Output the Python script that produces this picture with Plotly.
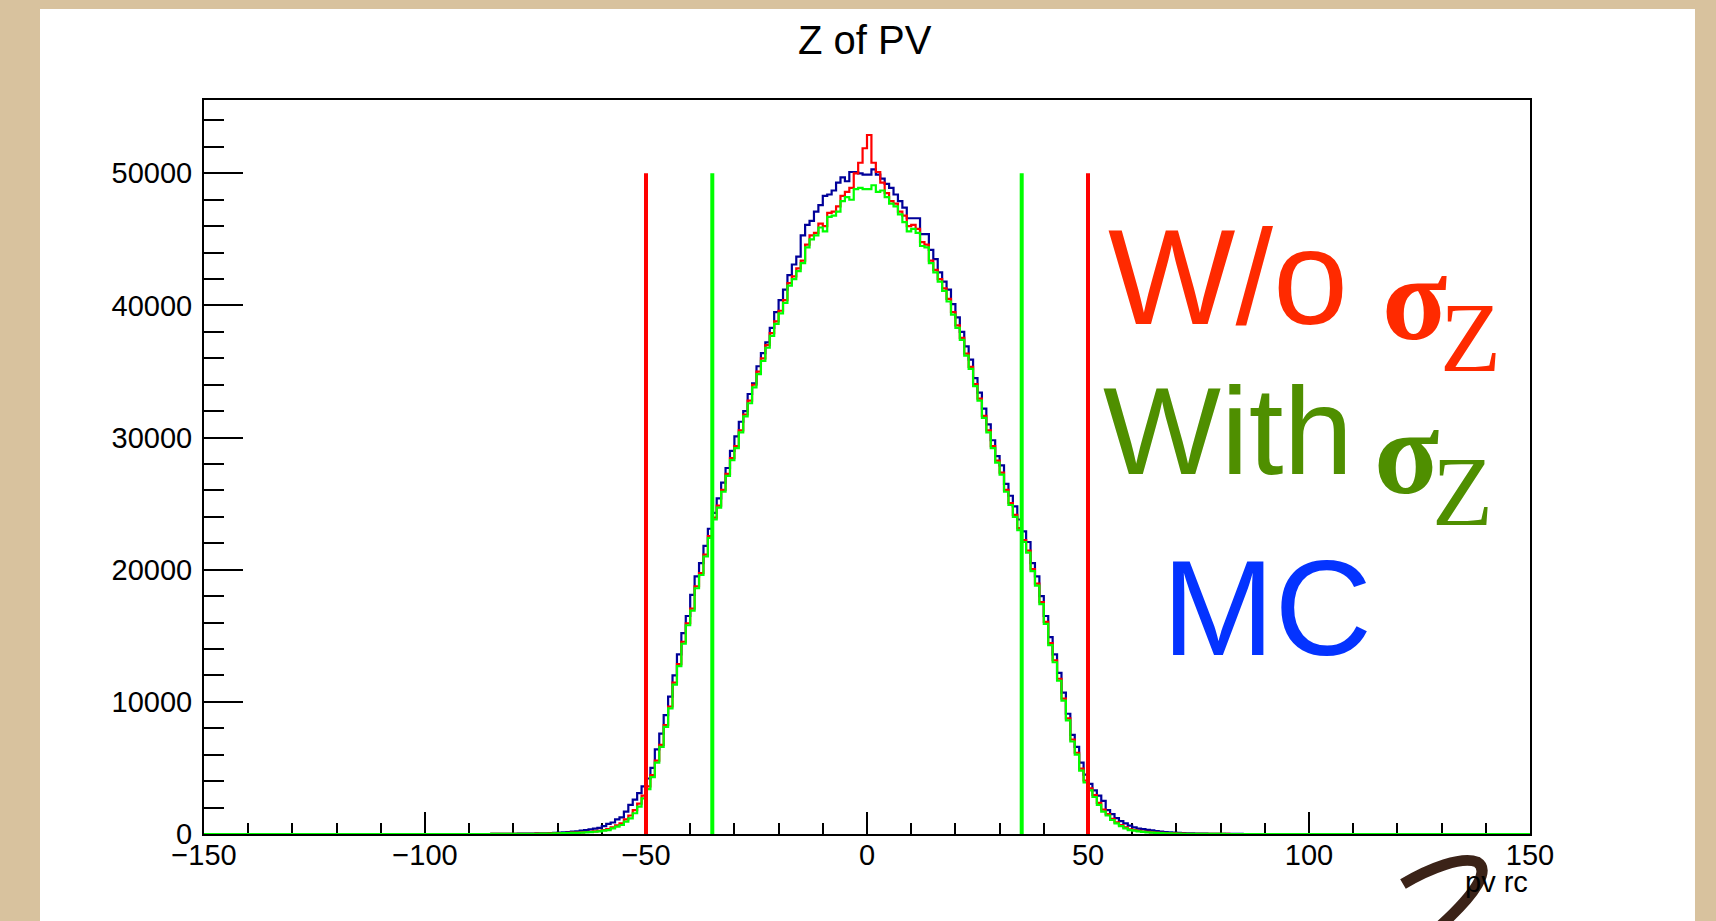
import plotly.graph_objects as go

# ---------------- data (histogram contents, 1-unit bins) ----------------
bin_lo = -85           # left edge of first listed bin; bins outside the list are empty
x_min, x_max = -150, 150

mc_counts = [
    10, 10, 15, 15, 20, 20, 25, 25, 30, 35,
    40, 45, 55, 65, 80, 100, 120, 150, 180, 210,
    250, 300, 350, 400, 460, 600, 760, 870, 1100, 1260,
    1700, 2200, 2600, 3100, 3600, 4200, 5000, 6400, 7600, 9000,
    10400, 12000, 13600, 15200, 16500, 18100, 19500, 20500, 21800, 23100,
    24300, 25400, 26600, 27700, 29000, 30100, 31200, 32000, 33300, 34100,
    35400, 36400, 37200, 38300, 39500, 40400, 41200, 42300, 43100, 43700,
    45300, 46100, 46400, 47100, 47600, 48300, 48400, 48700, 49300, 49700,
    49400, 50100, 50100, 50000, 49900, 49900, 50300, 49900, 49600, 49200,
    48900, 48400, 47900, 47400, 46600, 46600, 46600, 45400, 45400, 44200,
    43500, 42500, 41800, 41200, 40100, 39100, 38000, 36900, 35900, 34500,
    33400, 32200, 31000, 29800, 28600, 27900, 26500, 25600, 24800, 23800,
    22900, 22100, 20500, 19500, 18000, 16500, 14900, 13600, 12200, 10700,
    9100, 7500, 6600, 5400, 4500, 3800, 3300, 2900, 2500, 1800,
    1500, 1200, 980, 800, 630, 500, 400, 370, 310, 280,
    220, 180, 150, 120, 100, 80, 60, 50, 40, 30,
    25, 25, 20, 20, 15, 15, 10, 10, 10, 5,
]

wo_sigma_counts = [
    5, 5, 5, 10, 10, 10, 15, 15, 20, 20,
    25, 30, 35, 40, 50, 60, 70, 80, 100, 110,
    130, 150, 170, 200, 240, 300, 380, 500, 660, 800,
    1100, 1400, 1800, 2300, 2900, 3600, 4450, 5550, 6750, 8250,
    9650, 11450, 12850, 14550, 15950, 17050, 18750, 19750, 21150, 22550,
    23950, 24850, 26050, 27250, 28450, 29350, 30550, 31750, 32800, 34000,
    35000, 36000, 37000, 37900, 38800, 39600, 40400, 41700, 42200, 42800,
    43400, 44600, 45300, 45500, 46200, 46000, 47000, 47100, 47500, 48300,
    48600, 48900, 50000, 50800, 51900, 52900, 50800, 50100, 49300, 48500,
    47900, 47700, 47100, 46800, 46000, 46100, 45800, 44800, 44600, 43400,
    42700, 42000, 41300, 40500, 39500, 38500, 37550, 36350, 35350, 34050,
    32950, 31650, 30550, 29350, 28250, 27350, 26050, 25050, 24150, 23150,
    22250, 21450, 20050, 18950, 17550, 16050, 14450, 13150, 11750, 10250,
    8750, 7150, 6150, 4950, 4050, 3450, 2950, 2350, 1850, 1500,
    1150, 880, 680, 500, 360, 300, 240, 190, 160, 120,
    100, 80, 60, 50, 40, 30, 25, 20, 15, 15,
    10, 10, 10, 5, 5, 5, 5, 0, 0, 0,
]

with_sigma_counts = [
    5, 5, 5, 5, 10, 10, 10, 15, 15, 20,
    20, 25, 30, 35, 40, 50, 60, 70, 80, 90,
    100, 120, 140, 170, 200, 250, 300, 430, 560, 680,
    930, 1190, 1570, 2070, 2700, 3400, 4300, 5400, 6600, 8100,
    9500, 11300, 12700, 14400, 15800, 16900, 18600, 19600, 21000, 22400,
    23800, 24700, 25900, 27100, 28300, 29200, 30400, 31600, 32600, 33800,
    34800, 35800, 36800, 37700, 38600, 39400, 40200, 41500, 42000, 42600,
    43200, 44400, 45000, 45300, 45900, 45600, 46700, 46800, 47100, 47900,
    48200, 48000, 48800, 48900, 48800, 48800, 49100, 48600, 48700, 48200,
    47700, 47500, 46900, 46300, 45600, 45800, 45500, 44500, 44400, 43200,
    42500, 41800, 41100, 40300, 39300, 38300, 37400, 36200, 35200, 33900,
    32800, 31500, 30400, 29200, 28100, 27200, 25900, 24900, 24000, 23000,
    22100, 21300, 19900, 18800, 17400, 15900, 14300, 13000, 11600, 10100,
    8600, 7000, 6000, 4800, 3900, 3300, 2800, 2200, 1700, 1400,
    1060, 800, 600, 430, 300, 250, 200, 160, 130, 100,
    80, 60, 50, 40, 30, 25, 20, 15, 15, 10,
    10, 10, 5, 5, 5, 5, 0, 0, 0, 0,
]

cut_wo_sigma = [-50, 50]     # red vertical lines
cut_with_sigma = [-35, 35]   # green vertical lines
cut_line_top = 50000

y_max = 55550
x_ticks = [-150, -100, -50, 0, 50, 100, 150]
y_ticks = [0, 10000, 20000, 30000, 40000, 50000]

title_text = "Z of PV"
x_title = "pv rc"

# ---------------- geometry helpers ----------------
W, H = 1716, 921
L, R, T, B = 204, 1530, 100, 834      # plot-area pixel box


def px(xp):
    return (xp - L) / (R - L)


def py(yp):
    return (B - yp) / (B - T)


def step_xy(vals):
    xs = list(range(x_min, x_max + 1))
    ys = []
    for e in range(x_min, x_max):
        i = e - bin_lo
        ys.append(vals[i] if 0 <= i < len(vals) else 0)
    ys.append(ys[-1])
    return xs, ys


fig = go.Figure()

for vals, col in [(mc_counts, "#000099"), (wo_sigma_counts, "#ff0000"),
                  (with_sigma_counts, "#00ff00")]:
    xs, ys = step_xy(vals)
    fig.add_trace(go.Scatter(x=xs, y=ys, mode="lines", line_shape="hv",
                             line=dict(color=col, width=2.2),
                             hoverinfo="skip", showlegend=False))

for cuts, col in [(cut_wo_sigma, "#ff0000"), (cut_with_sigma, "#00ff00")]:
    for c in cuts:
        fig.add_trace(go.Scatter(x=[c, c], y=[0, cut_line_top], mode="lines",
                                 line=dict(color=col, width=4),
                                 hoverinfo="skip", showlegend=False))

tick_font = dict(family="Liberation Sans, Arial, sans-serif", size=29, color="black")

fig.update_xaxes(range=[x_min, x_max], tickvals=x_ticks, ticks="inside", ticklen=22,
                 tickwidth=2, tickcolor="black", showline=True, linecolor="black",
                 linewidth=2, mirror=True, showgrid=False, zeroline=False,
                 tickfont=tick_font, ticklabelstandoff=-6,
                 minor=dict(ticks="inside", ticklen=11, dtick=10, tickwidth=2,
                            tickcolor="black", showgrid=False),
                 layer="below traces")
fig.update_yaxes(range=[0, y_max], tickvals=y_ticks, tickformat="d", ticks="inside",
                 ticklen=39, tickwidth=2, tickcolor="black", showline=True,
                 linecolor="black", linewidth=2, mirror=True, showgrid=False,
                 zeroline=False, tickfont=tick_font, ticklabelstandoff=4,
                 minor=dict(ticks="inside", ticklen=20, dtick=2000, tickwidth=2,
                            tickcolor="black", showgrid=False),
                 layer="below traces")

shapes = [
    # white slide panel
    dict(type="rect", xref="paper", yref="paper", x0=px(40), x1=px(1695),
         y0=py(940), y1=py(9), fillcolor="white", line=dict(width=0), layer="below"),
]
# hand-drawn brown stroke (bottom right)
pts = [(1403, 884), (1430, 868), (1462, 856), (1477, 862), (1490, 870), (1478, 892), (1438, 928)]
path = "M {},{} C {},{} {},{} {},{} C {},{} {},{} {},{}".format(
    *[v for p_ in pts for v in (px(p_[0]), py(p_[1]))])
shapes.append(dict(type="path", xref="paper", yref="paper", path=path,
                   line=dict(color="#3b2318", width=11), layer="above"))

hand = "Liberation Sans, Arial, sans-serif"
serif = "Liberation Serif, Times New Roman, serif"
annotations = [
    dict(text=title_text, x=px(865), y=py(40), xanchor="center", yanchor="middle",
         font=dict(family="Liberation Sans, Arial", size=40, color="black")),
    dict(text=x_title, x=px(1530), y=py(882), xanchor="right", yanchor="middle",
         font=dict(family="Liberation Sans, Arial", size=29, color="black")),
    # labels
    dict(text="W/o", x=px(1228), y=py(277), xanchor="center", yanchor="middle",
         font=dict(family=hand, size=135, color="#ff2a00")),
    dict(text="σ", x=px(1414), y=py(298), xanchor="center", yanchor="middle",
         font=dict(family=serif, size=120, color="#ff2a00", weight="bold")),
    dict(text="Z", x=px(1470), y=py(337), xanchor="center", yanchor="middle",
         font=dict(family=serif, size=100, color="#ff2a00")),
    dict(text="With", x=px(1228), y=py(430), xanchor="center", yanchor="middle",
         font=dict(family=hand, size=125, color="#4f8f00")),
    dict(text="σ", x=px(1406), y=py(452), xanchor="center", yanchor="middle",
         font=dict(family=serif, size=120, color="#4f8f00", weight="bold")),
    dict(text="Z", x=px(1462), y=py(491), xanchor="center", yanchor="middle",
         font=dict(family=serif, size=100, color="#4f8f00")),
    dict(text="MC", x=px(1267), y=py(608), xanchor="center", yanchor="middle",
         font=dict(family=hand, size=135, color="#0433ff")),
]
for a in annotations:
    a["xref"] = "paper"
    a["yref"] = "paper"
    a["showarrow"] = False

fig.update_layout(
    width=W, height=H,
    margin=dict(l=L, r=W - R, t=T, b=H - B, pad=0),
    paper_bgcolor="#d8c29e",
    plot_bgcolor="white",
    shapes=shapes,
    annotations=annotations,
    showlegend=False,
)

fig.write_html("out.html")
